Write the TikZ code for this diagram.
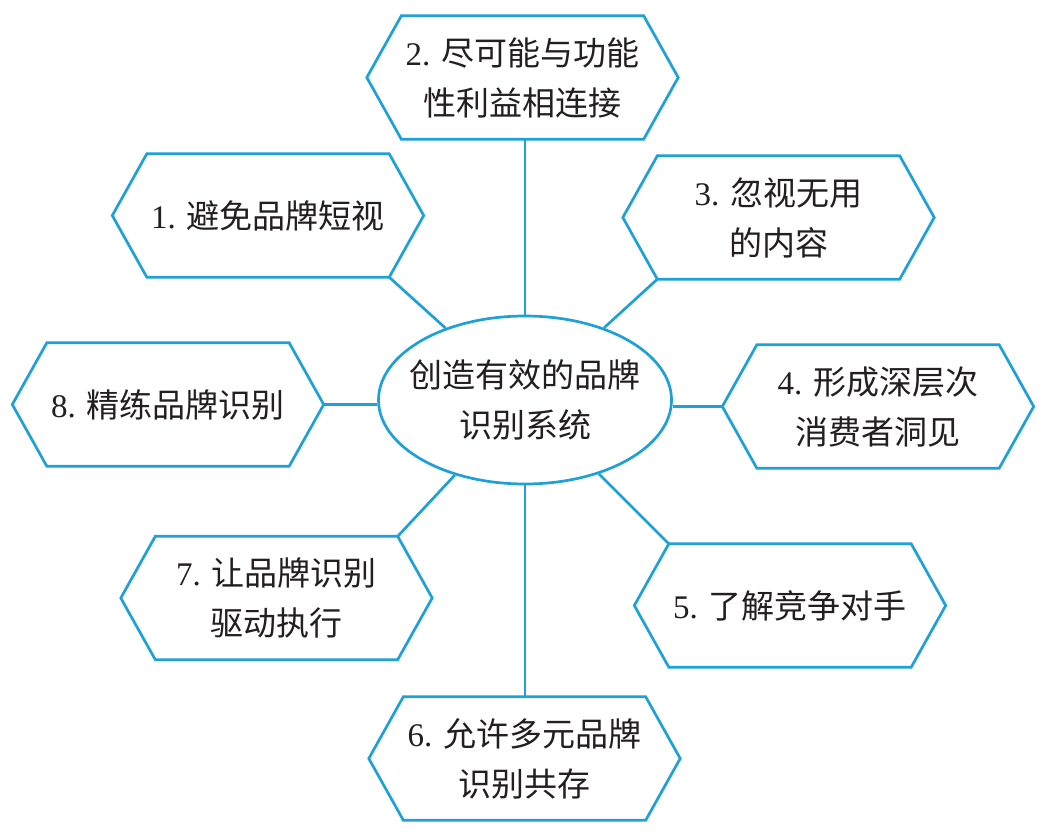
\documentclass[tikz,border=0pt]{standalone}
\usepackage{fontspec}
\setmainfont{Liberation Serif}
\newfontfamily\cjk{Noto Sans CJK SC}
\usetikzlibrary{shapes.geometric}
\definecolor{lineblue}{RGB}{29,161,214}
\definecolor{txt}{RGB}{35,31,32}
\tikzset{
  hexbox/.style={draw=none, minimum width=311pt, minimum height=123pt, inner sep=0pt,
    align=center, font=\fontsize{33}{50}\selectfont, text=txt},
  hubbox/.style={ellipse, draw=lineblue, line width=2.7pt, fill=white, minimum width=293pt,
    minimum height=168pt, inner xsep=-12pt, inner ysep=0pt, align=center, font=\fontsize{33}{50}\selectfont, text=txt},
  link/.style={draw=lineblue, line width=2.7pt},
  hexline/.style={draw=lineblue, line width=2.7pt, line join=miter},
}
\newcommand\hexoutline[1]{\draw[hexline] ([xshift=34.5pt]#1.north west) -- ([xshift=-34.5pt]#1.north east) -- (#1.east) -- ([xshift=-34.5pt]#1.south east) -- ([xshift=34.5pt]#1.south west) -- (#1.west) -- cycle;}
\begin{document}
\begin{tikzpicture}[x=1pt,y=-1pt]
\fill[white] (0,0) rectangle (1046,837);
\useasboundingbox (0,0) rectangle (1046,837);
% hexagon nodes
\node[hexbox] (h1) at (268,215.5) {1. {\cjk 避免品牌短视}};
\node[hexbox] (h2) at (522.5,77.5) {2. {\cjk 尽可能与功能}\\{\cjk 性利益相连接}};
\node[hexbox] (h3) at (778.5,217.5) {3. {\cjk 忽视无用}\\{\cjk 的内容}};
\node[hexbox] (h4) at (878,406.5) {4. {\cjk 形成深层次}\\{\cjk 消费者洞见}};
\node[hexbox] (h5) at (790,605.5) {5. {\cjk 了解竞争对手}};
\node[hexbox] (h6) at (524.5,758.5) {6. {\cjk 允许多元品牌}\\{\cjk 识别共存}};
\node[hexbox] (h7) at (276.5,598) {7. {\cjk 让品牌识别}\\{\cjk 驱动执行}};
\node[hexbox] (h8) at (168,404.5) {8. {\cjk 精练品牌识别}};
% connector end points at hexagon corners
\path (h1.south east) ++(-34.5,0) coordinate (c1);
\path (h3.south west) ++(34.5,0) coordinate (c3);
\path (h7.north east) ++(-34.5,0) coordinate (c7);
\path (h5.north west) ++(34.5,0) coordinate (c5);
\node[hubbox] (hub) at (525,400) {\cjk 创造有效的品牌\\\cjk 识别系统};
\draw[link] (c1) -- (hub);
\draw[link] (c3) -- (hub);
\draw[link] (c7) -- (hub);
\draw[link] (c5) -- (hub);
\draw[link] (hub.north) -- (hub.north |- h2.south);
\draw[link] (hub.south) -- (hub.south |- h6.north);
\draw[link] (h8.east) -- (h8.east -| hub.west);
\draw[link] (h4.west) -- (h4.west -| hub.east);
% hexagon outlines
\hexoutline{h1}
\hexoutline{h2}
\hexoutline{h3}
\hexoutline{h4}
\hexoutline{h5}
\hexoutline{h6}
\hexoutline{h7}
\hexoutline{h8}
\end{tikzpicture}
\end{document}
